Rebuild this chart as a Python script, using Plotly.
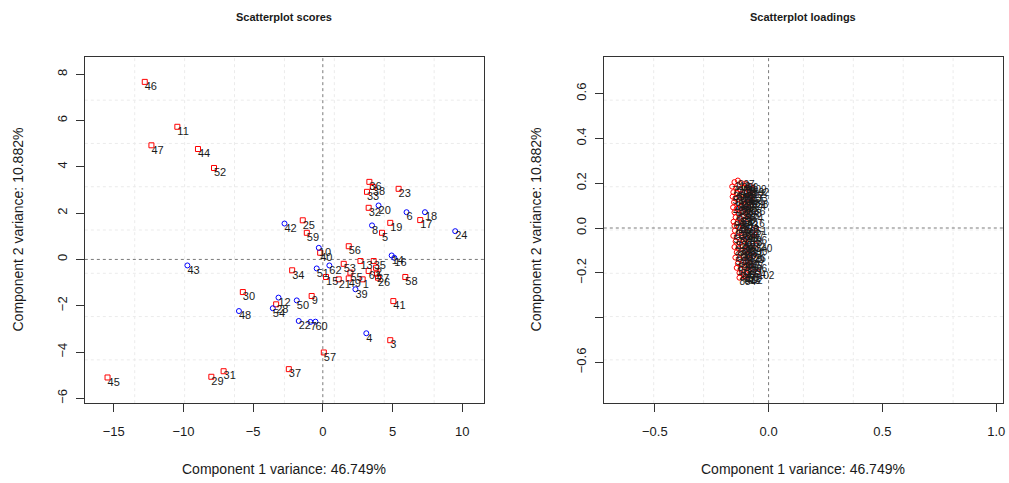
import plotly.graph_objects as go

# ---------------- Scores data ----------------
red_id = [1, 2, 3, 5, 9, 11, 13, 15, 17, 19, 21, 23, 25, 26, 27, 28, 29, 30, 31, 32,
          33, 34, 35, 36, 37, 38, 40, 41, 44, 45, 46, 47, 49, 52, 53, 55, 56, 57, 58, 59, 61]
red_x = [2.86, 3.82, 4.84, 4.25, -0.80, -10.44, 2.70, 0.23, 6.99, 4.84, 1.14, 5.44, -1.44, 3.96, 3.89, -3.35, -8.00, -5.74, -7.12, 3.29,
         3.17, -2.20, 3.65, 3.34, -2.44, 3.59, -0.19, 5.06, -8.96, -15.45, -12.78, -12.30, 1.86, -7.81, 1.50, 1.98, 1.86, 0.07, 5.92, -1.15, 3.29]
red_y = [-0.86, -0.36, -3.49, 1.15, -1.58, 5.73, -0.07, -0.76, 1.70, 1.58, -0.86, 3.05, 1.69, -0.79, -0.62, -1.94, -5.07, -1.41, -4.83, 2.23,
         2.92, -0.47, -0.07, 3.35, -4.74, 3.13, 0.29, -1.80, 4.77, -5.10, 7.67, 4.93, -0.82, 3.95, -0.19, -0.57, 0.57, -4.02, -0.76, 1.15, -0.50]

blue_id = [4, 6, 7, 8, 10, 12, 14, 16, 18, 20, 22, 24, 39, 42, 43, 48, 50, 51, 54, 60, 62]
blue_x = [3.12, 6.01, -0.89, 3.53, -0.29, -3.18, 4.94, 5.13, 7.33, 4.00, -1.73, 9.50, 2.34, -2.75, -9.72, -6.02, -1.87, -0.44, -3.59, -0.53, 0.47]
blue_y = [-3.19, 2.04, -2.70, 1.47, 0.50, -1.65, 0.17, 0.07, 2.04, 2.33, -2.66, 1.22, -1.29, 1.55, -0.26, -2.23, -1.77, -0.39, -2.11, -2.69, -0.26]

# ---------------- Loadings data ----------------
load_x = [-0.150, -0.135, -0.118, -0.098, -0.082, -0.160, -0.142, -0.125, -0.106, -0.088, -0.070, -0.155, -0.138, -0.115, -0.095, -0.078,
          -0.158, -0.146, -0.128, -0.110, -0.090, -0.074, -0.152, -0.134, -0.117, -0.100, -0.083, -0.156, -0.140, -0.122, -0.104, -0.088,
          -0.150, -0.132, -0.114, -0.096, -0.145, -0.126, -0.108, -0.090, -0.154, -0.136, -0.118,
          -0.150, -0.132, -0.115, -0.055, -0.148, -0.128, -0.110, -0.092, -0.062, -0.155, -0.137, -0.118, -0.100, -0.080,
          -0.145, -0.126, -0.108, -0.090, -0.057, -0.150, -0.132, -0.114, -0.096, -0.078, -0.140, -0.122, -0.104, -0.086, -0.066,
          -0.146, -0.128, -0.110, -0.092, -0.135, -0.117, -0.099, -0.080, -0.140, -0.122, -0.104, -0.086, -0.048, -0.128, -0.110,
          -0.092, -0.108, -0.100, -0.128]
load_y = [0.205, 0.212, 0.200, 0.196, 0.188, 0.185, 0.178, 0.172, 0.180, 0.168, 0.176, 0.160, 0.155, 0.150, 0.158, 0.148,
          0.140, 0.132, 0.138, 0.128, 0.135, 0.122, 0.115, 0.108, 0.118, 0.104, 0.112, 0.092, 0.086, 0.095, 0.082, 0.090,
          0.070, 0.064, 0.072, 0.060, 0.048, 0.042, 0.052, 0.040, 0.028, 0.022, 0.030,
          0.010, 0.004, 0.012, 0.000, -0.012, -0.020, -0.008, -0.016, -0.030, -0.035, -0.042, -0.030, -0.048, -0.040,
          -0.060, -0.068, -0.058, -0.070, -0.075, -0.085, -0.092, -0.080, -0.095, -0.088, -0.108, -0.115, -0.104, -0.118, -0.124,
          -0.132, -0.140, -0.128, -0.145, -0.158, -0.165, -0.152, -0.162, -0.178, -0.185, -0.175, -0.190, -0.196, -0.200, -0.208,
          -0.202, -0.215, -0.218, -0.222]
load_lab = [118, 927, 356, 41, 609, 733, 212, 488, 75, 802, 592, 304, 661, 19, 847, 233,
            517, 96, 703, 268, 451, 638, 142, 889, 377, 55, 724, 410, 163, 581, 298, 836,
            7, 649, 325, 774, 183, 532, 88, 416, 697, 251, 863,
            705, 470, 136, 51, 618, 384, 902, 267, 2, 559, 71, 745, 313, 496,
            820, 154, 687, 432, 340, 229, 566, 38, 781, 390, 645, 207, 853, 126, 29,
            508, 361, 914, 277, 83, 729, 445, 596, 172, 837, 319, 664, 102, 247, 791,
            58, 613, 402, 884]

x1_ticks = [-15, -10, -5, 0, 5, 10]
y1_ticks = [-6, -4, -2, 0, 2, 4, 6, 8]
x2_ticks = [-0.5, 0.0, 0.5, 1.0]
y2_ticks = [-0.6, -0.4, -0.2, 0.0, 0.2, 0.4, 0.6]
y2_text = ["\u22120.6", "", "\u22120.2", "0.0", "0.2", "0.4", "0.6"]

title1 = "Scatterplot scores"
title2 = "Scatterplot loadings"
xlab = "Component 1 variance: 46.749%"
ylab = "Component 2 variance: 10.882%"

FONT = "Liberation Sans, Arial, sans-serif"
TXT = "#1a1a1a"

fig = go.Figure()


def add_points(xs, ys, labels, symbol, color, size, tsize, xa, ya):
    fig.add_trace(go.Scatter(
        x=xs, y=ys, mode="markers",
        marker=dict(symbol=symbol, size=size, color=color, line=dict(width=1, color=color)),
        xaxis=xa, yaxis=ya, showlegend=False, hoverinfo="skip"))
    fig.add_trace(go.Scatter(
        x=xs, y=ys, mode="text", text=[str(i) for i in labels],
        textposition="bottom right", textfont=dict(size=tsize, color=TXT, family=FONT),
        xaxis=xa, yaxis=ya, showlegend=False, cliponaxis=False))


add_points(red_x, red_y, red_id, "square-open", "#ff0000", 5, 11, "x", "y")
add_points(blue_x, blue_y, blue_id, "circle-open", "#0000ff", 5, 11, "x", "y")
add_points(load_x, load_y, load_lab, "circle-open", "#ff0000", 5, 10, "x2", "y2")

axis_common = dict(showgrid=False, zeroline=False, showline=True, mirror=True,
                   linecolor="#333", linewidth=1, ticks="outside", ticklen=8,
                   tickcolor="#333", tickfont=dict(size=13, color=TXT, family=FONT))

YD = [1 - 404 / 483, 1 - 57 / 483]
fig.update_layout(
    width=1009, height=483, margin=dict(l=0, r=0, t=0, b=0),
    paper_bgcolor="white", plot_bgcolor="white",
    xaxis=dict(domain=[85 / 1009, 485 / 1009], range=[-17.08, 11.57], tickvals=x1_ticks,
               anchor="y", ticklabelstandoff=8, **axis_common),
    yaxis=dict(domain=YD, range=[-6.21, 8.75], tickvals=y1_ticks, tickangle=-90,
               anchor="x", ticklabelstandoff=4, **axis_common),
    xaxis2=dict(domain=[605 / 1009, 1005 / 1009], range=[-0.724, 1.03], tickvals=x2_ticks,
                tickformat=".1f", anchor="y2", ticklabelstandoff=8, **axis_common),
    yaxis2=dict(domain=YD, range=[-0.782, 0.764], tickvals=y2_ticks, ticktext=y2_text,
                tickangle=-90, anchor="x2", ticklabelstandoff=4, **axis_common),
)

shapes = []
for xr, yr in (("x", "y"), ("x2", "y2")):
    for k in range(1, 8):
        f = k / 8
        shapes.append(dict(type="line", xref=xr + " domain", yref=yr + " domain",
                           x0=f, x1=f, y0=0, y1=1, line=dict(color="#ebebeb", width=1, dash="dot"), layer="below"))
        shapes.append(dict(type="line", xref=xr + " domain", yref=yr + " domain",
                           x0=0, x1=1, y0=f, y1=f, line=dict(color="#ebebeb", width=1, dash="dot"), layer="below"))
    shapes.append(dict(type="line", xref=xr, yref=yr + " domain", x0=0, x1=0, y0=0, y1=1,
                       line=dict(color="#7a7a7a", width=1, dash="dot"), layer="below"))
    shapes.append(dict(type="line", xref=xr + " domain", yref=yr, x0=0, x1=1, y0=0, y1=0,
                       line=dict(color="#7a7a7a", width=1, dash="dot"), layer="below"))
fig.update_layout(shapes=shapes)

ann = []
for cx, t in ((285 / 1009, title1), (805 / 1009, title2)):
    ann.append(dict(text="<b>" + t + "</b>", x=cx, y=1 - 17 / 483, xref="paper", yref="paper",
                    showarrow=False, font=dict(size=11, color=TXT, family=FONT),
                    xanchor="center", yanchor="middle"))
    ann.append(dict(text=xlab, x=cx, y=1 - 470 / 483, xref="paper", yref="paper",
                    showarrow=False, font=dict(size=14, color=TXT, family=FONT),
                    xanchor="center", yanchor="middle"))
for cx in (18 / 1009, 537 / 1009):
    ann.append(dict(text=ylab, x=cx, y=1 - 230 / 483, xref="paper", yref="paper",
                    showarrow=False, textangle=-90, font=dict(size=14, color=TXT, family=FONT),
                    xanchor="center", yanchor="middle"))
fig.update_layout(annotations=ann)

fig.write_html("out.html")
